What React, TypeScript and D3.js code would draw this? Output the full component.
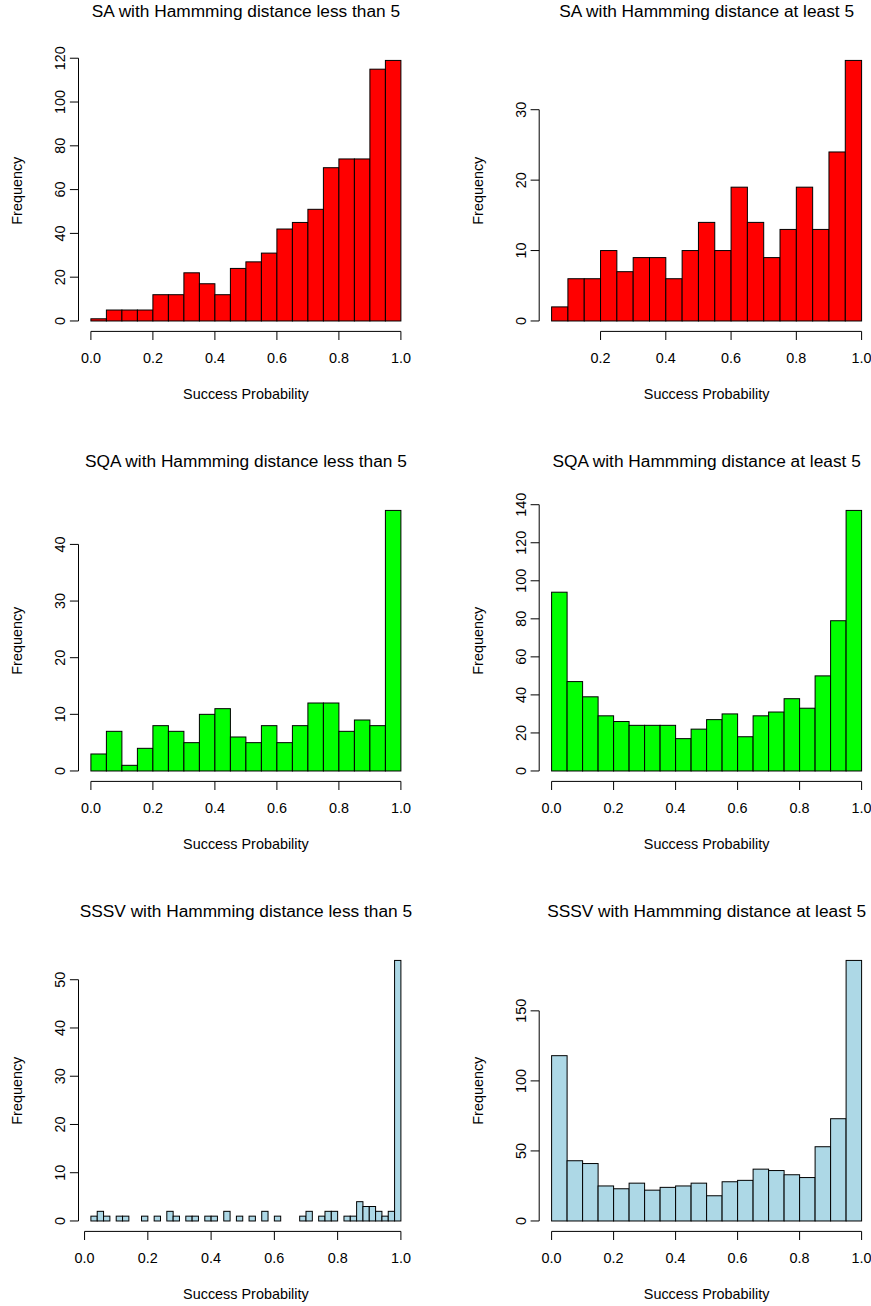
import React from 'react';
import * as d3 from 'd3';

const W = 871;
const H = 1306;

const titles = [
  'SA with Hammming distance less than 5',
  'SA with Hammming distance at least 5',
  'SQA with Hammming distance less than 5',
  'SQA with Hammming distance at least 5',
  'SSSV with Hammming distance less than 5',
  'SSSV with Hammming distance at least 5',
];

const saLowCounts = [1, 5, 5, 5, 12, 12, 22, 17, 12, 24, 27, 31, 42, 45, 51, 70, 74, 74, 115, 119];
const saHighCounts = [2, 6, 6, 10, 7, 9, 9, 6, 10, 14, 10, 19, 14, 9, 13, 19, 13, 24, 37];
const sqaLowCounts = [3, 7, 1, 4, 8, 7, 5, 10, 11, 6, 5, 8, 5, 8, 12, 12, 7, 9, 8, 46];
const sqaHighCounts = [94, 47, 39, 29, 26, 24, 24, 24, 17, 22, 27, 30, 18, 29, 31, 38, 33, 50, 79, 137];
const sssvLowCounts = [
  1, 2, 1, 0, 1, 1, 0, 0, 1, 0, 1, 0, 2, 1, 0, 1, 1, 0, 1, 1,
  0, 2, 0, 1, 0, 1, 0, 2, 0, 1, 0, 0, 0, 1, 2, 0, 1, 2, 2, 0,
  1, 1, 4, 3, 3, 2, 1, 2, 54,
];
const sssvHighCounts = [118, 43, 41, 25, 23, 27, 22, 24, 25, 27, 18, 28, 29, 37, 36, 33, 31, 53, 73, 186];

const countsList = [saLowCounts, saHighCounts, sqaLowCounts, sqaHighCounts, sssvLowCounts, sssvHighCounts];
const breakStarts = [0, 0.05, 0, 0, 0.02, 0];
const binWidths = [0.05, 0.05, 0.05, 0.05, 0.02, 0.05];
const fills = ['#FF0000', '#FF0000', '#00FF00', '#00FF00', '#ADD8E6', '#ADD8E6'];

const xTicksList = [
  [0, 0.2, 0.4, 0.6, 0.8, 1.0],
  [0.2, 0.4, 0.6, 0.8, 1.0],
  [0, 0.2, 0.4, 0.6, 0.8, 1.0],
  [0, 0.2, 0.4, 0.6, 0.8, 1.0],
  [0, 0.2, 0.4, 0.6, 0.8, 1.0],
  [0, 0.2, 0.4, 0.6, 0.8, 1.0],
];
const yTicksList = [
  [0, 20, 40, 60, 80, 100, 120],
  [0, 10, 20, 30],
  [0, 10, 20, 30, 40],
  [0, 20, 40, 60, 80, 100, 120, 140],
  [0, 10, 20, 30, 40, 50],
  [0, 50, 100, 150],
];

const xLabel = 'Success Probability';
const yLabel = 'Frequency';

const colLeft = [78.5, 539.2];
const rowTop = [50, 500, 950];
const plotW = 334.8;
const plotH = 281.4;
const FONT = 'Liberation Sans, Arial, Helvetica, sans-serif';
const TICK = 8.6;

function Panel({ idx }: { idx: number }) {
  const counts = countsList[idx];
  const left = colLeft[idx % 2];
  const top = rowTop[Math.floor(idx / 2)];
  const bs = breakStarts[idx];
  const bw = binWidths[idx];
  const x0 = bs;
  const x1 = bs + counts.length * bw;
  const xp = (x1 - x0) * 0.04;
  const x = d3.scaleLinear().domain([x0 - xp, x1 + xp]).range([left, left + plotW]);
  const ymax = d3.max(counts) as number;
  const yp = ymax * 0.04;
  const y = d3.scaleLinear().domain([-yp, ymax + yp]).range([top + plotH, top]);
  const xt = xTicksList[idx];
  const yt = yTicksList[idx];
  const bottom = top + plotH;
  const fmt = d3.format('.1f');
  return (
    <g>
      <text x={left + plotW / 2} y={top - 33.5} textAnchor="middle" fontSize={17.3} fontFamily={FONT} fill="#000">
        {titles[idx]}
      </text>
      {counts.map((c, i) => {
        const xa = x(bs + i * bw);
        const xb = x(bs + (i + 1) * bw);
        return (
          <rect key={i} x={xa} y={y(c)} width={xb - xa} height={y(0) - y(c)} fill={fills[idx]} stroke="#000" strokeWidth={1} />
        );
      })}
      {/* x axis */}
      <line x1={x(xt[0])} x2={x(xt[xt.length - 1])} y1={bottom} y2={bottom} stroke="#000" strokeWidth={1} />
      {xt.map((t, i) => (
        <g key={i}>
          <line x1={x(t)} x2={x(t)} y1={bottom} y2={bottom + TICK} stroke="#000" strokeWidth={1} />
          <text x={x(t)} y={bottom + 31.6} textAnchor="middle" fontSize={14.4} fontFamily={FONT} fill="#000">
            {fmt(t)}
          </text>
        </g>
      ))}
      <text x={left + plotW / 2} y={bottom + 68} textAnchor="middle" fontSize={14.4} fontFamily={FONT} fill="#000">
        {xLabel}
      </text>
      {/* y axis */}
      <line x1={left} x2={left} y1={y(yt[0])} y2={y(yt[yt.length - 1])} stroke="#000" strokeWidth={1} />
      {yt.map((t, i) => (
        <g key={i}>
          <line x1={left} x2={left - TICK} y1={y(t)} y2={y(t)} stroke="#000" strokeWidth={1} />
          <text
            transform={`translate(${left - 13.5},${y(t)}) rotate(-90)`}
            textAnchor="middle"
            fontSize={14.4}
            fontFamily={FONT}
            fill="#000"
          >
            {String(t)}
          </text>
        </g>
      ))}
      <text
        transform={`translate(${left - 56.5},${top + plotH / 2}) rotate(-90)`}
        textAnchor="middle"
        fontSize={14.4}
        fontFamily={FONT}
        fill="#000"
      >
        {yLabel}
      </text>
    </g>
  );
}

export default function App() {
  return (
    <svg
      width={W}
      height={H}
      viewBox={`0 0 ${W} ${H}`}
      style={{ position: 'absolute', left: 0, top: 0, background: '#fff' }}
    >
      <rect x={0} y={0} width={W} height={H} fill="#fff" />
      {countsList.map((_, i) => (
        <Panel key={i} idx={i} />
      ))}
    </svg>
  );
}
